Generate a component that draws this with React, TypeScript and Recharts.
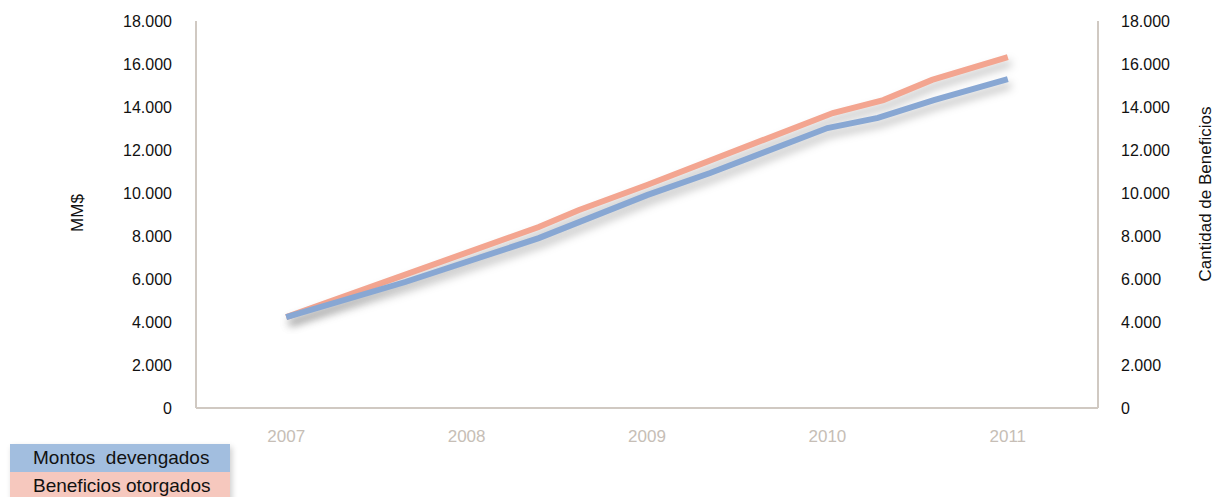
import React from "react";
import { LineChart, Line, XAxis, YAxis, Label } from "recharts";

const yearTicks = [2007, 2008, 2009, 2010, 2011];
const valueTicks = [0, 2000, 4000, 6000, 8000, 10000, 12000, 14000, 16000, 18000];

// Montos devengados (MM$), read where the line bends
const montosYears = [2007, 2007.66, 2008.4, 2009, 2009.35, 2010, 2010.28, 2010.59, 2011];
const montosValues = [4230, 5860, 7900, 9900, 10930, 13020, 13490, 14320, 15300];

// Beneficios otorgados (cantidad)
const beneficiosYears = [2007, 2008.4, 2008.62, 2009, 2010.03, 2010.31, 2010.58, 2011];
const beneficiosValues = [4230, 8420, 9200, 10370, 13720, 14320, 15260, 16320];

const montosData = montosYears.map((year, i) => ({ year, value: montosValues[i] }));
const beneficiosData = beneficiosYears.map((year, i) => ({ year, value: beneficiosValues[i] }));

const FONT = '"Liberation Sans", Arial, sans-serif';
const AXIS_COLOR = "#d0c9c2";

const fmt = (v: number) => String(v).replace(/\B(?=(\d{3})+(?!\d))/g, ".");

function AxisTitle({ value, x, cy }: any) {
  return (
    <text
      x={x}
      y={cy}
      transform={`rotate(-90, ${x}, ${cy})`}
      textAnchor="middle"
      dominantBaseline="central"
      fontSize={17}
      fontFamily={FONT}
      fill="#111"
    >
      {value}
    </text>
  );
}

export default function App() {
  return (
    <div style={{ position: "relative", width: 1216, height: 497, fontFamily: FONT, overflow: "hidden" }}>
      <style>{`
        body { margin: 0; }
        .recharts-line-curve { filter: drop-shadow(3px 6px 4px rgba(0,0,0,0.25)); }
      `}</style>
      <LineChart width={1216} height={497} margin={{ top: 21, right: 0, bottom: 49, left: 0 }}>
        <XAxis
          dataKey="year"
          type="number"
          domain={[2006.5, 2011.5]}
          ticks={yearTicks}
          height={40}
          tickLine={false}
          tickSize={0}
          tickMargin={22}
          stroke={AXIS_COLOR}
          strokeWidth={2}
          tick={{ fill: "#c6beb6", fontSize: 17, fontFamily: FONT }}
        />
        <YAxis
          yAxisId="left"
          domain={[0, 18000]}
          ticks={valueTicks}
          width={196}
          tickLine={false}
          tickSize={0}
          tickMargin={24}
          tickFormatter={fmt}
          stroke={AXIS_COLOR}
          strokeWidth={2}
          tick={{ fill: "#111", fontSize: 16, fontFamily: FONT }}
        >
          <Label content={() => <AxisTitle value="MM$" x={77} cy={213} />} />
        </YAxis>
        <YAxis
          yAxisId="right"
          orientation="right"
          domain={[0, 18000]}
          ticks={valueTicks}
          width={118}
          tickLine={false}
          tickSize={0}
          tickMargin={23}
          tickFormatter={fmt}
          stroke={AXIS_COLOR}
          strokeWidth={2}
          tick={{ fill: "#111", fontSize: 16, fontFamily: FONT, textAnchor: "start" }}
        >
          <Label content={() => <AxisTitle value="Cantidad de Beneficios" x={1205} cy={194} />} />
        </YAxis>
        <Line
          yAxisId="right"
          data={beneficiosData}
          dataKey="value"
          type="linear"
          stroke="#f3a590"
          strokeWidth={6}
          dot={false}
          isAnimationActive={false}
        />
        <Line
          yAxisId="left"
          data={montosData}
          dataKey="value"
          type="linear"
          stroke="#88a7d3"
          strokeWidth={6}
          dot={false}
          isAnimationActive={false}
        />
      </LineChart>
      <div
        style={{
          position: "absolute",
          left: 10,
          top: 444,
          width: 220,
          fontSize: 19,
          color: "#111",
          boxShadow: "2px 3px 6px rgba(0,0,0,0.2)",
        }}
      >
        <div style={{ background: "#a2bedf", height: 28, lineHeight: "28px", paddingLeft: 23 }}>
          Montos&nbsp; devengados
        </div>
        <div style={{ background: "#f6c8be", height: 28, lineHeight: "28px", paddingLeft: 23 }}>
          Beneficios otorgados
        </div>
      </div>
    </div>
  );
}
